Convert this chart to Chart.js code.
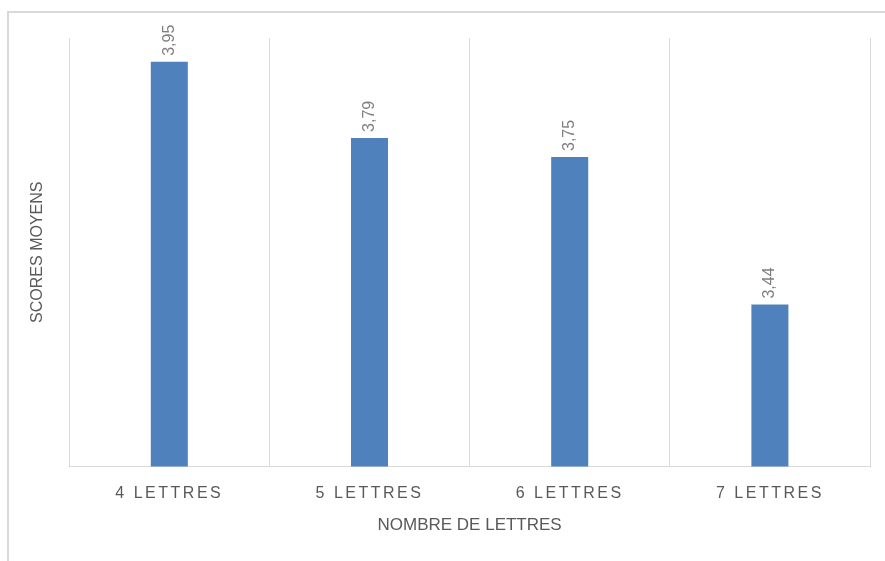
<!DOCTYPE html>
<html>
<head>
<meta charset="utf-8">
<script src="https://cdn.jsdelivr.net/npm/chart.js@4/dist/chart.umd.min.js"></script>
<style>
  body { margin: 0; background: #fff; }
  #wrap { position: relative; width: 885px; height: 561px; overflow: hidden; }
  #frame {
    position: absolute; left: 7px; top: 11px; right: -10px; bottom: -10px;
    border-left: 2px solid #d9d9d9; border-top: 2px solid #d9d9d9;
  }
  #scoresChart { position: absolute; left: 0; top: 0; }
</style>
</head>
<body>
<div id="wrap">
  <div id="frame"></div>
  <canvas id="scoresChart" width="885" height="561"></canvas>
</div>
<script>
const categories = ["4 LETTRES", "5 LETTRES", "6 LETTRES", "7 LETTRES"];
const scores = [3.95, 3.79, 3.75, 3.44];
const yMin = 3.1;
const yMax = 4.0;

const textFont = "'Liberation Sans', Arial, sans-serif";

// value labels above the bars, rotated like the original
const barLabels = {
  id: "barLabels",
  afterDatasetsDraw(chart) {
    const ctx = chart.ctx;
    const meta = chart.getDatasetMeta(0);
    ctx.save();
    ctx.letterSpacing = "0px";
    ctx.font = "16px " + textFont;
    ctx.fillStyle = "#7f7f7f";
    ctx.textAlign = "left";
    ctx.textBaseline = "middle";
    meta.data.forEach((bar, i) => {
      const text = scores[i].toFixed(2).replace(".", ",");
      ctx.save();
      ctx.translate(bar.x, bar.y - 6);
      ctx.rotate(-Math.PI / 2);
      ctx.fillText(text, 0, 0);
      ctx.restore();
    });
    ctx.restore();
    // spaced-out category labels (x ticks are drawn after this hook)
    ctx.letterSpacing = "2.5px";
  },
  afterDraw(chart) {
    chart.ctx.letterSpacing = "0px";
  }
};

const ctx = document.getElementById("scoresChart");

new Chart(ctx, {
  type: "bar",
  data: {
    labels: categories,
    datasets: [{
      data: scores,
      backgroundColor: "#4f81bd",
      borderWidth: 0,
      categoryPercentage: 1,
      barPercentage: 0.185
    }]
  },
  options: {
    responsive: false,
    animation: false,
    layout: { padding: { left: 0, right: 15, top: 38, bottom: 3 } },
    plugins: {
      legend: { display: false },
      tooltip: { enabled: false }
    },
    scales: {
      x: {
        grid: { color: "#d9d9d9", lineWidth: 1, drawTicks: false },
        border: { color: "#d9d9d9", width: 1 },
        ticks: {
          z: 1,
          padding: 18,
          color: "#595959",
          font: { family: textFont, size: 16 }
        },
        title: {
          display: true,
          text: "NOMBRE DE LETTRES",
          color: "#595959",
          font: { family: textFont, size: 17 },
          padding: { top: -6, bottom: 22 }
        }
      },
      y: {
        min: yMin,
        max: yMax,
        grid: { display: false },
        border: { display: false },
        ticks: { display: false },
        title: {
          display: true,
          text: "SCORES MOYENS",
          color: "#595959",
          font: { family: textFont, size: 16 },
          padding: { top: 28, bottom: 14 }
        }
      }
    }
  },
  plugins: [barLabels]
});
</script>
</body>
</html>
